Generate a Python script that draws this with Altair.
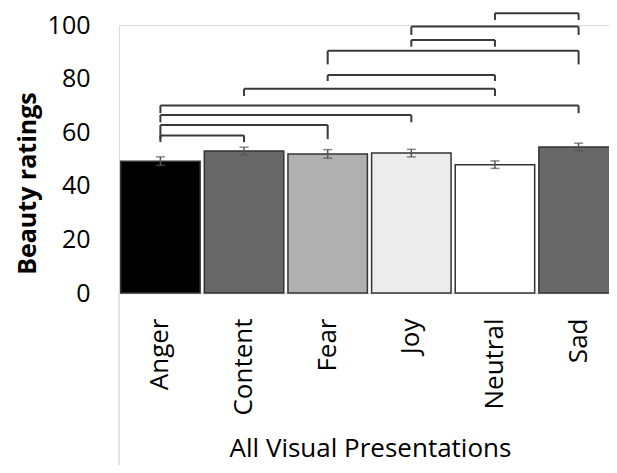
import altair as alt
import pandas as pd

categories = ["Anger", "Content", "Fear", "Joy", "Neutral", "Sad"]
means = [49.2, 53.0, 51.9, 52.2, 47.9, 54.5]
errors = [1.6, 1.4, 1.6, 1.4, 1.4, 1.4]
colors = ["#000000", "#676767", "#b0b0b0", "#ececec", "#ffffff", "#686868"]

bracket_left = ["Neutral", "Joy", "Joy", "Fear", "Fear", "Content", "Anger", "Anger", "Anger", "Anger"]
bracket_right = ["Sad", "Sad", "Neutral", "Sad", "Neutral", "Neutral", "Sad", "Joy", "Fear", "Content"]
bracket_top = [104.4, 99.4, 94.4, 90.4, 81.3, 76.2, 70.0, 66.4, 62.7, 58.8]
bracket_bottom = [101.9, 96.3, 91.9, 85.3, 79.1, 73.5, 67.1, 63.7, 57.4, 56.3]

y_ticks = [0, 20, 40, 60, 80, 100]

FONT = "Open Sans"

bars_df = pd.DataFrame({
    "cat": categories,
    "mean": means,
    "lo": [m - e for m, e in zip(means, errors)],
    "hi": [m + e for m, e in zip(means, errors)],
})

br_df = pd.DataFrame({
    "left": bracket_left,
    "right": bracket_right,
    "top": bracket_top,
    "bottom": bracket_bottom,
})
ends_df = pd.concat([
    pd.DataFrame({"cat": bracket_left, "top": bracket_top, "bottom": bracket_bottom}),
    pd.DataFrame({"cat": bracket_right, "top": bracket_top, "bottom": bracket_bottom}),
], ignore_index=True)

W, H = 490, 268
XRANGE = 501

xscale = alt.Scale(domain=categories, paddingInner=0.05, paddingOuter=0.02, range=[0, XRANGE])
yscale = alt.Scale(domain=[0, 100], nice=False)

x_axis = alt.Axis(
    title="All Visual Presentations", labelAngle=-90, labelFontSize=26, labelFont=FONT,
    labelColor="#000000", labelPadding=25, ticks=False, domainColor="#d9d9d9", domainWidth=1.5,
    titleFont=FONT, titleFontSize=26, titleFontWeight="normal", titleColor="#000000",
    titleX=W / 2 + 6, titleY=155, titleBaseline="middle", titleAlign="center",
)
y_axis = alt.Axis(
    title="Beauty ratings", values=y_ticks, grid=False, domain=False, ticks=False,
    labelFontSize=25, labelFont=FONT, labelColor="#000000", labelPadding=29,
    titleFont=FONT, titleFontSize=25, titleFontWeight="bold", titleColor="#000000",
    titleX=-92, titleY=158, titleBaseline="middle", titleAlign="center", titleAngle=270,
)

bars = alt.Chart(bars_df).mark_bar(stroke="#333333", strokeWidth=1.5).encode(
    x=alt.X("cat:N", scale=xscale, axis=x_axis, sort=categories),
    y=alt.Y("mean:Q", scale=yscale, axis=y_axis),
    fill=alt.Fill("cat:N", scale=alt.Scale(domain=categories, range=colors), legend=None),
)

err = alt.Chart(bars_df).mark_rule(color="#555555", strokeWidth=1.5).encode(
    x=alt.X("cat:N", sort=categories), y="lo:Q", y2="hi:Q"
)
cap_lo = alt.Chart(bars_df).mark_tick(color="#555555", thickness=1.5, size=9, orient="horizontal").encode(
    x=alt.X("cat:N", sort=categories), y="lo:Q"
)
cap_hi = alt.Chart(bars_df).mark_tick(color="#555555", thickness=1.5, size=9, orient="horizontal").encode(
    x=alt.X("cat:N", sort=categories), y="hi:Q"
)

br_h = alt.Chart(br_df).mark_rule(color="#3a3a3a", strokeWidth=2).encode(
    x=alt.X("left:N", sort=categories), x2="right:N", y="top:Q"
)
br_v = alt.Chart(ends_df).mark_rule(color="#3a3a3a", strokeWidth=2).encode(
    x=alt.X("cat:N", sort=categories), y="top:Q", y2="bottom:Q"
)

left_line = alt.Chart(pd.DataFrame({"k": [0]})).mark_rule(color="#d9d9d9", strokeWidth=1.5).encode(
    x=alt.value(0), y=alt.value(H), y2=alt.value(H + 172)
)

chart = alt.layer(bars, err, cap_lo, cap_hi, br_h, br_v, left_line).properties(
    width=W, height=H,
    autosize=alt.AutoSizeParams(type="none"),
    padding={"left": 111, "top": 17, "right": 0, "bottom": 172},
).configure_view(stroke=None).configure(background="#ffffff")

chart.save("out.html", embed_options={"renderer": "svg", "actions": False})
